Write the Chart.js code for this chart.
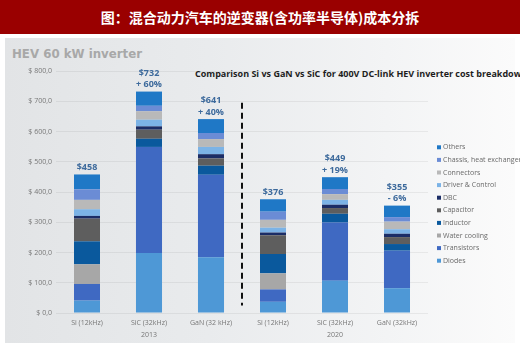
<!DOCTYPE html>
<html>
<head>
<meta charset="utf-8">
<script src="https://cdn.jsdelivr.net/npm/chart.js@4.4.0/dist/chart.umd.min.js"></script>
<style>
  body { margin: 0; width: 520px; height: 346px; overflow: hidden; background: #fff; position: relative; }
  #header { position: absolute; left: 0; top: 0; width: 520px; height: 34px; background: #9a0000;
    color: #fff; font: bold 14px "Noto Sans CJK SC", sans-serif; text-align: center; line-height: 34px; }
  #panel { position: absolute; left: 5px; top: 38px; width: 510px; height: 305px;
    background: linear-gradient(to right, #e2e4e6 0%, #e9ebed 40%, #f3f4f5 75%, #fbfbfb 100%); }
  #hev { position: absolute; left: 12px; top: 47px; font: bold 11.8px "DejaVu Sans", sans-serif; color: #a8a8a8; white-space: nowrap; }
  #sub { position: absolute; left: 195px; top: 67px; font: bold 9px "Open Sans", sans-serif; color: #1e1e1e; white-space: nowrap; }
  #chart { position: absolute; left: 0; top: 0; }
</style>
</head>
<body>
<div id="header">图：混合动力汽车的逆变器(含功率半导体)成本分拆</div>
<div id="panel"></div>
<div id="hev">HEV 60 kW inverter</div>
<div id="sub">Comparison Si vs GaN vs SiC for 400V DC-link HEV inverter cost breakdown</div>
<canvas id="chart" width="520" height="346"></canvas>
<script>
// values, in $ per inverter
const categories = ['Si (12kHz)', 'SiC (32kHz)', 'GaN (32 kHz)', 'Si (12kHz)', 'SiC (32kHz)', 'GaN (32kHz)'];
const years = ['2013', '2020'];
const diodes        = [41, 198, 184, 37, 107, 82];
const transistors   = [55, 351, 273, 41, 192, 124];
const waterCooling  = [65, 0, 0, 53, 0, 0];
const inductor      = [76, 27, 30, 64, 29, 22];
const capacitor     = [75, 30, 24, 62, 19, 23];
const dbc           = [9, 11, 14, 9, 11, 11];
const driverControl = [22, 22, 24, 16, 16, 15];
const connectors    = [31, 28, 26, 26, 19, 25];
const chassis       = [35, 18, 20, 27, 17, 15];
const others        = [49, 47, 46, 41, 39, 38];
const totalLabels  = ['$458', '$732', '$641', '$376', '$449', '$355'];
const changeLabels = ['', '+ 60%', '+ 40%', '', '+ 19%', '- 6%'];

function ds(label, data, color) {
  return { label: label, data: data, backgroundColor: color, barPercentage: 0.42, categoryPercentage: 1 };
}

const datasets = [
  ds('Diodes', diodes, '#4e98d6'),
  ds('Transistors', transistors, '#3f69c2'),
  ds('Water cooling', waterCooling, '#a7a7a7'),
  ds('Inductor', inductor, '#0a599d'),
  ds('Capacitor', capacitor, '#5e5e5e'),
  ds('DBC', dbc, '#1b2d66'),
  ds('Driver & Control', driverControl, '#7cb3e6'),
  ds('Connectors', connectors, '#b9b9b9'),
  ds('Chassis, heat exchanger', chassis, '#6b8cd5'),
  ds('Others', others, '#1f78c6')
];

const extras = {
  id: 'extras',
  afterDatasetsDraw(chart) {
    const ctx = chart.ctx;
    const x = chart.scales.x, y = chart.scales.y;
    const topMeta = chart.getDatasetMeta(datasets.length - 1);
    ctx.save();
    // totals above bars
    ctx.font = 'bold 9px "Open Sans"';
    ctx.fillStyle = '#3d6a9c';
    ctx.textAlign = 'center';
    ctx.textBaseline = 'middle';
    topMeta.data.forEach((bar, i) => {
      let ly = bar.y - 7;
      if (changeLabels[i]) {
        ctx.fillText(changeLabels[i], bar.x, ly);
        ly -= 11.5;
      }
      ctx.fillText(totalLabels[i], bar.x, ly);
    });
    // dashed separator between the two years
    const sx = (x.getPixelForValue(2) + x.getPixelForValue(3)) / 2;
    ctx.strokeStyle = '#111';
    ctx.lineWidth = 2;
    ctx.setLineDash([6, 4]);
    ctx.beginPath();
    ctx.moveTo(sx, y.getPixelForValue(695));
    ctx.lineTo(sx, y.getPixelForValue(25));
    ctx.stroke();
    ctx.setLineDash([]);
    // year labels
    ctx.font = '7px "Open Sans"';
    ctx.fillStyle = '#777';
    ctx.fillText(years[0], x.getPixelForValue(1), 335);
    ctx.fillText(years[1], x.getPixelForValue(4), 335);
    // legend, top item first
    ctx.font = '7px "Open Sans"';
    ctx.textAlign = 'left';
    const items = datasets.slice().reverse();
    items.forEach((d, j) => {
      const ry = 147.3 + j * 12.6;
      ctx.fillStyle = d.backgroundColor;
      ctx.fillRect(437, ry - 2, 4, 4);
      ctx.fillStyle = '#6a6a6a';
      ctx.fillText(d.label, 443, ry);
    });
    ctx.restore();
  }
};

new Chart(document.getElementById('chart'), {
  type: 'bar',
  data: { labels: categories, datasets: datasets },
  options: {
    responsive: false,
    animation: false,
    layout: { padding: { top: 71, right: 92, left: 0, bottom: 0 } },
    plugins: { legend: { display: false }, tooltip: { enabled: false } },
    scales: {
      x: {
        stacked: true,
        grid: { display: false, drawTicks: false },
        border: { display: false },
        ticks: { color: '#777', font: { size: 7, family: 'Open Sans' }, padding: 6, maxRotation: 0 },
        afterFit: s => { s.height = 33; }
      },
      y: {
        stacked: true,
        min: 0, max: 800,
        grid: { color: 'rgba(0,0,0,0.06)', drawTicks: false },
        border: { display: false },
        ticks: {
          stepSize: 100, padding: 4, color: '#777', font: { size: 7, family: 'Open Sans' },
          callback: v => '$ ' + v.toFixed(1).replace('.', ',')
        },
        afterFit: s => { s.width = 56; }
      }
    }
  },
  plugins: [extras]
});
</script>
</body>
</html>
